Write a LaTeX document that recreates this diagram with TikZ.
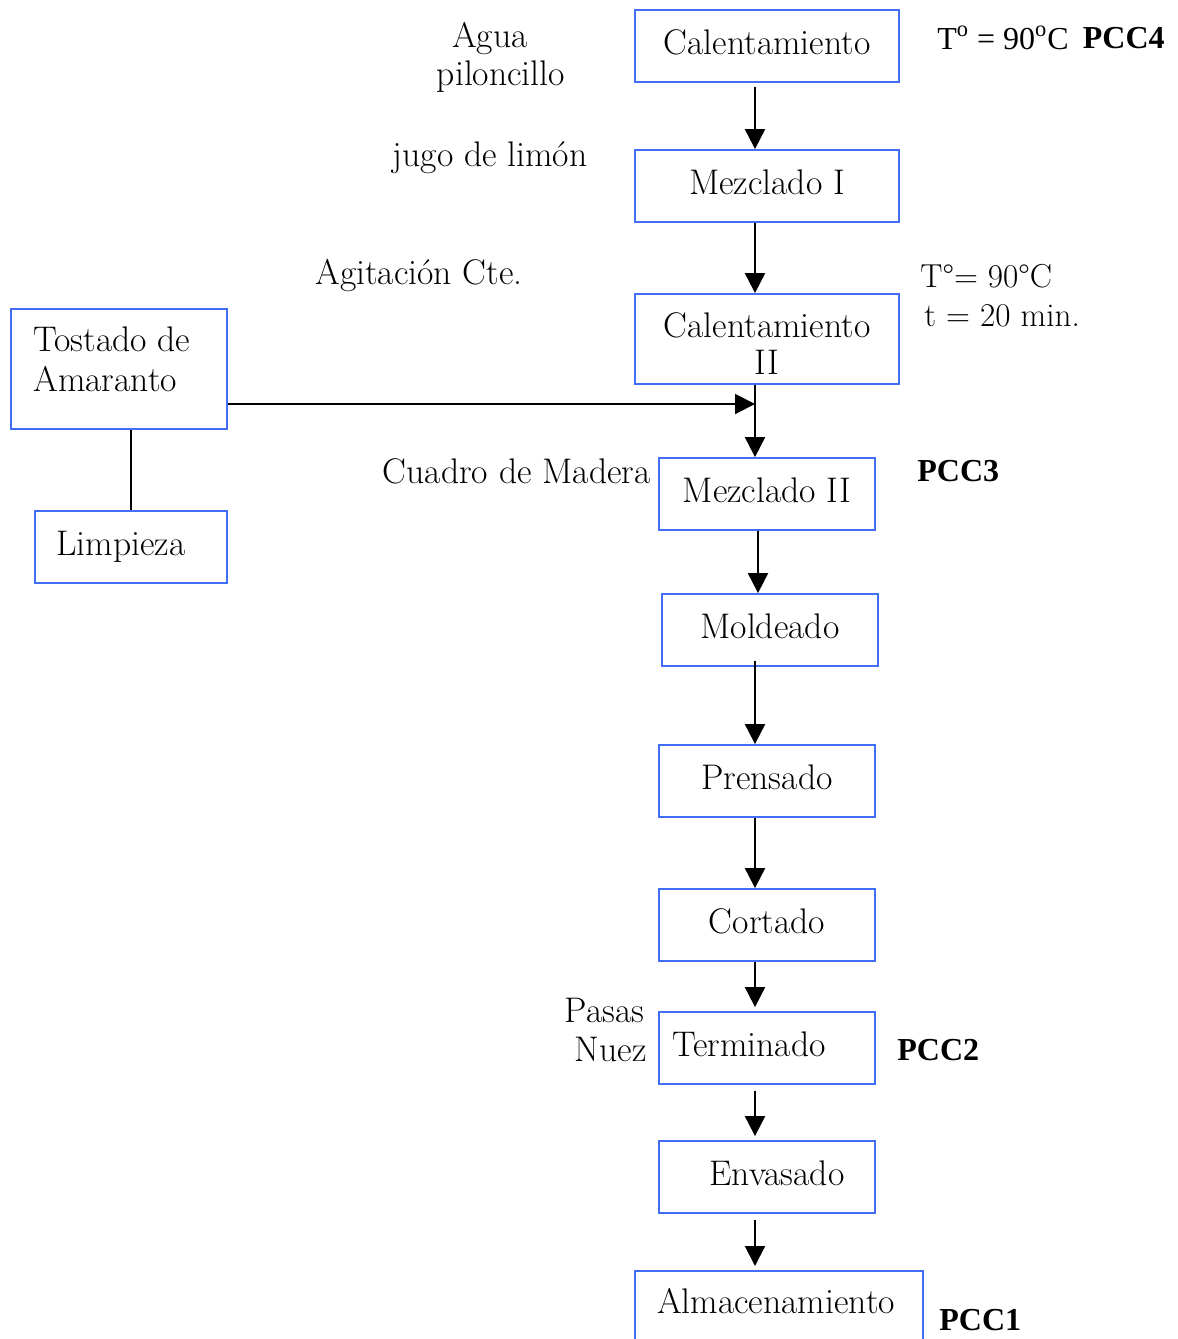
\documentclass[tikz,border=0pt]{standalone}
\usepackage{fontspec}
\usetikzlibrary{arrows.meta}
\newfontfamily\timesf{Liberation Serif}
\definecolor{boxblue}{RGB}{66,110,245}
\newcommand{\txtsize}{\fontsize{17.8}{19.5}\selectfont}
\begin{document}
\begin{tikzpicture}[x=0.5pt,y=-0.5pt,
  lbl/.style={font=\txtsize, inner sep=0pt, align=center},
  pcc/.style={font=\timesf\bfseries\fontsize{16}{19}\selectfont, inner sep=0pt},
  box/.style={draw=boxblue, line width=0.9pt, inner sep=0pt, align=center, font=\txtsize},
  wide/.style={box, minimum width=132pt, minimum height=36pt},
  narrow/.style={box, minimum width=108pt, minimum height=36pt},
  arr/.style={-{Triangle[length=10pt,width=10pt]}, line width=1pt},
  link/.style={line width=1pt}]
\useasboundingbox (0,0) rectangle (1178,1339);
\clip (0,0) rectangle (1178,1339);

% main process chain
\node[wide] (cal1) at (767,46) {Calentamiento\vphantom{g}};
\node[wide] (mez1) at (767,186) {Mezclado I\vphantom{g}};
\node[box, minimum width=132pt, minimum height=45pt] (cal2) at (767,339) {};
\node[lbl] (cal2a) at (767,325) {Calentamiento};
\node[lbl] (cal2b) at (767,362) {II};
\node[narrow] (mez2) at (767,494) {Mezclado II\vphantom{g}};
\node[narrow] (mold) at (770,630) {Moldeado\vphantom{g}};
\node[narrow] (pren) at (767,781) {Prensado\vphantom{g}};
\node[narrow] (cort) at (767,925) {Cortado\vphantom{g}};
\node[narrow] (term) at (767,1048) {\hspace*{-18pt}Terminado\vphantom{g}};
\node[narrow] (env) at (767,1177) {\hspace*{10pt}Envasado\vphantom{g}};
\node[box, minimum width=144pt, minimum height=44pt, anchor=north] (alm) at (779,1270) {};
\node[lbl] (almt) at (776,1301) {Almacenamiento};

% side branch
\node[box, minimum width=108pt, minimum height=60pt] (tost) at (119,369) {};
\node[lbl, anchor=west, align=left] (tostt) at (33,359) {Tostado de\\[0.5pt]Amaranto};
\node[box, minimum width=96pt, minimum height=36pt] (limp) at (131,547) {\hspace*{-10pt}Limpieza\vphantom{g}};

% connectors
\draw[arr] ([xshift=-6pt,yshift=-2pt]cal1.south) -- ([xshift=-6pt]mez1.north);
\draw[arr] ([xshift=-6pt]mez1.south) -- ([xshift=-6pt]cal2.north);
\draw[arr] ([xshift=-6pt]cal2.south) -- ([xshift=-6pt]mez2.north);
\coordinate (join) at (755,404);
\draw[arr] ([yshift=-17.5pt]tost.east) -- (join);
\draw[arr] ([xshift=-4.5pt]mez2.south) -- ([xshift=-4.5pt]mez2.south |- mold.north);
\draw[arr] ([xshift=-7.5pt,yshift=3pt]mold.south) -- ([xshift=-6pt]pren.north);
\draw[arr] ([xshift=-6pt]pren.south) -- ([xshift=-6pt]cort.north);
\draw[arr] ([xshift=-6pt]cort.south) -- ([xshift=-6pt,yshift=2pt]term.north);
\draw[arr] ([xshift=-6pt,yshift=-3pt]term.south) -- ([xshift=-6pt,yshift=2pt]env.north);
\draw[arr] ([xshift=-6pt,yshift=-3pt]env.south) -- ([xshift=-12pt,yshift=2pt]alm.north);
\draw[link] (limp.north |- tost.south) -- (limp.north);

% annotations
\node[lbl] (agua) at (490,39) {Agua};
\node[lbl] (pilon) at (501,77) {piloncillo};
\node[lbl] (jugo) at (490,158) {jugo de limón};
\node[lbl] (agit) at (419,276) {Agitación Cte.};
\node[lbl, anchor=west] (temp1) at (937,38) {\timesf\fontsize{16}{19}\selectfont T\textsuperscript{o} = 90\textsuperscript{o}C};
\node[pcc, anchor=east] (pcc4) at (1165,38) {PCC4};
\node[lbl, anchor=west, font=\fontsize{16.6}{19}\selectfont] (temp2) at (920,276) {T\textdegree= 90\textdegree C};
\node[lbl, anchor=west, font=\fontsize{16.6}{19}\selectfont] (time2) at (924,316) {t = 20 min.};
\node[lbl, anchor=east] (cuadro) at (651,471) {Cuadro de Madera};
\node[pcc, anchor=west] (pcc3) at (917,471) {PCC3};
\node[lbl, anchor=east] (pasas) at (645,1010) {Pasas};
\node[lbl, anchor=east] (nuez) at (647,1049) {Nuez};
\node[pcc, anchor=west] (pcc2) at (897,1050) {PCC2};
\node[pcc, anchor=west] (pcc1) at (939,1320) {PCC1};
\end{tikzpicture}
\end{document}
